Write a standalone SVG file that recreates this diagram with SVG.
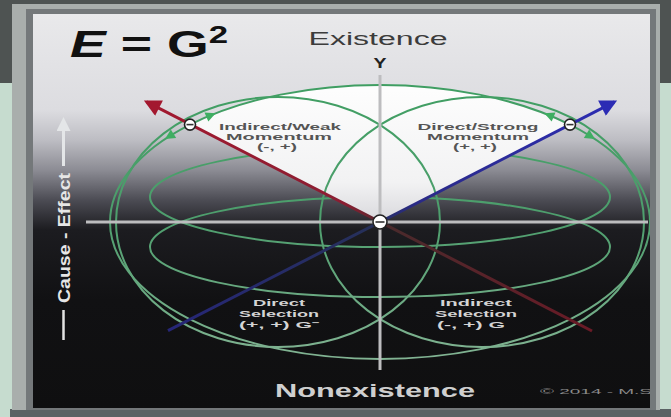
<svg xmlns="http://www.w3.org/2000/svg" width="671" height="417" viewBox="0 0 671 417">
  <defs>
    <linearGradient id="panelBg" x1="0" y1="14" x2="0" y2="408" gradientUnits="userSpaceOnUse">
      <stop offset="0" stop-color="#e9e9eb"/>
      <stop offset="0.244" stop-color="#dcdce0"/>
      <stop offset="0.32" stop-color="#bdbdc3"/>
      <stop offset="0.396" stop-color="#8c8c94"/>
      <stop offset="0.472" stop-color="#4c4c54"/>
      <stop offset="0.548" stop-color="#1c1c20"/>
      <stop offset="0.726" stop-color="#111113"/>
      <stop offset="1" stop-color="#0f0f10"/>
    </linearGradient>
    <linearGradient id="wedgeFill" x1="0" y1="90" x2="0" y2="222" gradientUnits="userSpaceOnUse">
      <stop offset="0" stop-color="#fdfdfd"/>
      <stop offset="0.7" stop-color="#f2f2f3"/>
      <stop offset="1" stop-color="#d8d8dc"/>
    </linearGradient>
    <linearGradient id="greenStroke" x1="0" y1="80" x2="0" y2="370" gradientUnits="userSpaceOnUse">
      <stop offset="0" stop-color="#3f9e62"/>
      <stop offset="0.5" stop-color="#4f9f6e"/>
      <stop offset="1" stop-color="#86b596"/>
    </linearGradient>
    <linearGradient id="redLine" x1="143" y1="100" x2="592" y2="331" gradientUnits="userSpaceOnUse">
      <stop offset="0" stop-color="#a3182f"/>
      <stop offset="0.45" stop-color="#8a1e32"/>
      <stop offset="0.55" stop-color="#4a2a2c"/>
      <stop offset="1" stop-color="#6a1a26"/>
    </linearGradient>
    <linearGradient id="blueLine" x1="618" y1="100" x2="168" y2="331" gradientUnits="userSpaceOnUse">
      <stop offset="0" stop-color="#2c2cb4"/>
      <stop offset="0.45" stop-color="#2a2a86"/>
      <stop offset="0.55" stop-color="#26305a"/>
      <stop offset="1" stop-color="#262678"/>
    </linearGradient>
    <marker id="redHead" viewBox="0 0 10 10" refX="8.2" refY="5" markerUnits="userSpaceOnUse" markerWidth="22" markerHeight="17" orient="auto">
      <path d="M0,0 L10,5 L0,10 z" fill="#a3182f"/>
    </marker>
    <marker id="blueHead" viewBox="0 0 10 10" refX="8.2" refY="5" markerUnits="userSpaceOnUse" markerWidth="22" markerHeight="17" orient="auto">
      <path d="M0,0 L10,5 L0,10 z" fill="#2c2cb4"/>
    </marker>
    <marker id="whiteHead" viewBox="0 0 10 10" refX="5" refY="5" markerUnits="userSpaceOnUse" markerWidth="14" markerHeight="14" orient="auto">
      <path d="M0,0 L10,5 L0,10 z" fill="#e4e6e8"/>
    </marker>
    <clipPath id="panelClip">
      <rect x="33" y="14" width="617" height="394"/>
    </clipPath>
    <style>
      .g { fill: none; stroke: url(#greenStroke); stroke-width: 2; }
      .garrow { fill: #3fae62; }
      .axis { stroke: #bdbdbf; stroke-width: 3; }
      .node { fill: #ffffff; stroke: #222222; stroke-width: 1.6; }
      .nbar { stroke: #333333; stroke-width: 1.6; }
      .t { font-family: "Liberation Sans", Arial, sans-serif; }
      .ql { font-family: "Liberation Sans", Arial, sans-serif; font-size: 8.5px; font-weight: bold; fill: #555555; text-anchor: middle; }
      .qd { font-family: "Liberation Sans", Arial, sans-serif; font-size: 9px; font-weight: bold; fill: #d4d4d4; text-anchor: middle; }
    </style>
  </defs>

  <!-- surroundings -->
  <rect x="0" y="0" width="671" height="417" fill="#4e5352"/>
  <rect x="0" y="83" width="671" height="334" fill="#c6dccf"/>
  <rect x="10" y="409" width="661" height="8" fill="#5b6264"/>
  <rect x="12" y="4" width="648" height="406" fill="#a9aeac"/>
  <rect x="26" y="9" width="630" height="401" fill="#74787a"/>
  <rect x="33" y="14" width="617" height="394" fill="url(#panelBg)"/>

  <g clip-path="url(#panelClip)">
    <!-- horizontal lobes (partly hidden by the wedge) -->
    <g id="lobes">
      <ellipse class="g" cx="380" cy="197" rx="230" ry="50"/>
      <ellipse class="g" cx="380" cy="247" rx="230" ry="50"/>
    </g>

    <!-- white wedge -->
    <path id="wedge" d="M380,222 L190,124.6 A270,137 0 0,1 570,124.6 Z" fill="url(#wedgeFill)"/>

    <!-- green rings -->
    <g id="rings">
      <ellipse class="g" cx="380" cy="222" rx="270" ry="137"/>
      <ellipse class="g" cx="278" cy="222" rx="162" ry="125"/>
      <ellipse class="g" cx="482" cy="222" rx="162" ry="125"/>
      <polygon class="garrow" points="215.7,113.2 208.3,121.6 204.5,112.4"/>
      <polygon class="garrow" points="165,139 176.2,137.9 170.8,129.5"/>
      <polygon class="garrow" points="544.3,113.2 551.7,121.6 555.5,112.4"/>
      <polygon class="garrow" points="595,139 583.8,137.9 589.2,129.5"/>
    </g>

    <!-- axes -->
    <g id="axes">
      <line class="axis" x1="86" y1="222" x2="648" y2="222"/>
      <line class="axis" x1="380" y1="75" x2="380" y2="370" stroke="#b2b2b4"/>
    </g>

    <!-- connectors: diagonals -->
    <g id="connectors">
      <line x1="592" y1="331" x2="146.6" y2="101.8" stroke="url(#redLine)" stroke-width="3" marker-end="url(#redHead)"/>
      <line x1="168" y1="330.7" x2="614.4" y2="101.8" stroke="url(#blueLine)" stroke-width="3" marker-end="url(#blueHead)"/>
    </g>

    <!-- nodes -->
    <g id="node-left">
      <circle class="node" cx="190" cy="124.6" r="5.5"/>
      <line class="nbar" x1="186.5" y1="124.6" x2="193.5" y2="124.6"/>
    </g>
    <g id="node-right">
      <circle class="node" cx="570" cy="124.6" r="5.5"/>
      <line class="nbar" x1="566.5" y1="124.6" x2="573.5" y2="124.6"/>
    </g>
    <g id="node-center">
      <circle class="node" cx="380" cy="222" r="7"/>
      <line class="nbar" x1="375.5" y1="222" x2="384.5" y2="222"/>
    </g>

    <!-- quadrant labels -->
    <g id="q-indirect-weak">
      <text class="ql" x="280" y="130" textLength="122" lengthAdjust="spacingAndGlyphs">Indirect/Weak</text>
      <text class="ql" x="279" y="140" textLength="106" lengthAdjust="spacingAndGlyphs">Momentum</text>
      <text class="ql" x="277" y="150" textLength="40" lengthAdjust="spacingAndGlyphs">(-, +)</text>
    </g>
    <g id="q-direct-strong">
      <text class="ql" x="478" y="130" textLength="121" lengthAdjust="spacingAndGlyphs">Direct/Strong</text>
      <text class="ql" x="478" y="140" textLength="102" lengthAdjust="spacingAndGlyphs">Momentum</text>
      <text class="ql" x="475" y="150" textLength="44" lengthAdjust="spacingAndGlyphs">(+, +)</text>
    </g>
    <g id="q-direct-selection">
      <text class="qd" x="279" y="306" textLength="52" lengthAdjust="spacingAndGlyphs">Direct</text>
      <text class="qd" x="279" y="317" textLength="80" lengthAdjust="spacingAndGlyphs">Selection</text>
      <text class="qd" x="279" y="328" textLength="80" lengthAdjust="spacingAndGlyphs">(+, +) G⁻</text>
    </g>
    <g id="q-indirect-selection">
      <text class="qd" x="476" y="306" textLength="72" lengthAdjust="spacingAndGlyphs">Indirect</text>
      <text class="qd" x="476" y="317" textLength="82" lengthAdjust="spacingAndGlyphs">Selection</text>
      <text class="qd" x="471" y="328" textLength="68" lengthAdjust="spacingAndGlyphs">(-, +) G</text>
    </g>

    <!-- titles -->
    <text class="t" transform="translate(70,57) scale(1.45,1)" font-size="37" font-weight="bold" fill="#111111"><tspan font-style="italic">E</tspan> = G<tspan font-size="24" dy="-14">2</tspan></text>
    <text class="t" x="378" y="45" text-anchor="middle" font-size="18" fill="#3c3c3c" textLength="139" lengthAdjust="spacingAndGlyphs">Existence</text>
    <text class="t" x="380" y="68" text-anchor="middle" font-size="14" font-weight="bold" fill="#222222" textLength="13" lengthAdjust="spacingAndGlyphs">Y</text>
    <text class="t" x="375" y="397" text-anchor="middle" font-size="19" font-weight="bold" fill="#cfcfcf" textLength="200" lengthAdjust="spacingAndGlyphs">Nonexistence</text>
    <text class="t" x="540" y="394" font-size="8" fill="#8a8a8a" textLength="112" lengthAdjust="spacingAndGlyphs">© 2014 - M.S</text>

    <!-- left vertical label -->
    <g id="cause-effect">
      <line x1="63.5" y1="340" x2="63.5" y2="310" stroke="#e2e2e2" stroke-width="2.5"/>
      <text class="t" transform="translate(70,303) rotate(-90)" font-size="16" font-weight="bold" fill="#e6e6e6" textLength="130" lengthAdjust="spacingAndGlyphs">Cause - Effect</text>
      <line x1="63.5" y1="166" x2="63.5" y2="124" stroke="#e4e6e8" stroke-width="3" marker-end="url(#whiteHead)"/>
    </g>
  </g>
</svg>
